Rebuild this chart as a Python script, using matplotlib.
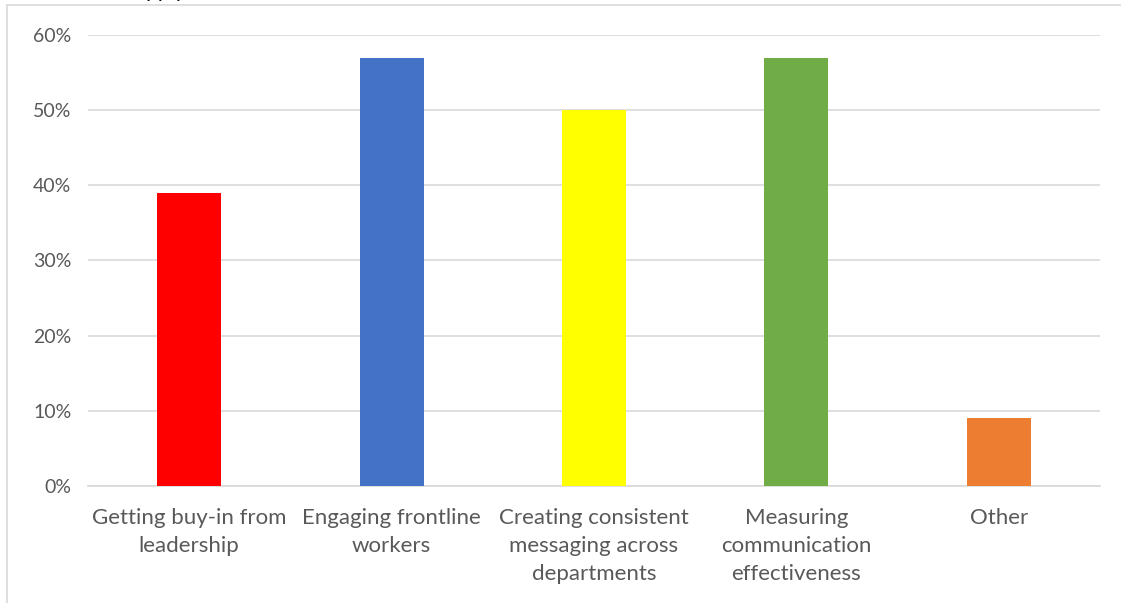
import matplotlib.pyplot as plt
from matplotlib.lines import Line2D
from matplotlib.ticker import PercentFormatter

categories = ["Getting buy-in from\nleadership", "Engaging frontline\nworkers",
              "Creating consistent\nmessaging across\ndepartments",
              "Measuring\ncommunication\neffectiveness", "Other"]
values = [0.39, 0.57, 0.50, 0.57, 0.09]
colors = ["#ff0000", "#4472c4", "#ffff00", "#70ad47", "#ed7d31"]
yticks = [0, 0.1, 0.2, 0.3, 0.4, 0.5, 0.6]

plt.rcParams['font.family'] = ['Lato', 'DejaVu Sans']

fig = plt.figure(figsize=(11.21, 6.03), dpi=100)
ax = fig.add_axes([0.0785, 0.194, 0.9028, 0.748])

x = range(len(categories))
ax.bar(x, values, width=0.316, color=colors, zorder=3)
ax.set_xlim(-0.5, len(categories) - 0.5)
ax.set_ylim(0, 0.6)
ax.set_yticks(yticks)
ax.yaxis.set_major_formatter(PercentFormatter(1.0, decimals=0))
ax.set_xticks(list(x))
ax.set_xticklabels(categories, fontsize=16, color="#595959", linespacing=1.5)
ax.tick_params(axis='y', labelsize=14, labelcolor="#595959", length=0, pad=12)
ax.tick_params(axis='x', length=0, pad=16)
ax.grid(axis='y', color="#d9d9d9", linewidth=1.2, zorder=0)
for s in ["top", "right", "left"]:
    ax.spines[s].set_visible(False)
ax.spines["bottom"].set_color("#d9d9d9")
ax.spines["bottom"].set_linewidth(1.2)

# chart frame (cropped at right/bottom) and cut-off title text
fig.add_artist(Line2D([0.0062, 0.0062], [0, 0.9917], transform=fig.transFigure,
                      color="#d9d9d9", linewidth=1.2))
fig.add_artist(Line2D([0.0062, 1.0], [0.9917, 0.9917], transform=fig.transFigure,
                      color="#d9d9d9", linewidth=1.2))
fig.text(0.122, 1.0 + 3 / 603, "apply)", fontsize=16, style='italic',
         color="black", va='baseline', ha='left')

fig.savefig("out.png", dpi=100)
